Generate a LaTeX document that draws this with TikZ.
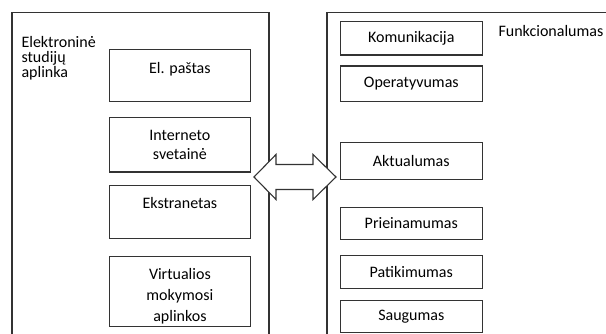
\documentclass[tikz,border=0pt]{standalone}
\usepackage{fontspec}
\setmainfont{Carlito}
\usepackage{tikz}
\usetikzlibrary{positioning}
\colorlet{linecol}{black!80}

\begin{document}
\begin{tikzpicture}[x=1pt, y=1pt, line width=1.1pt,
  box/.style={draw=linecol, fill=white, align=center, inner sep=1pt,
    font=\fontsize{16}{18.5}\selectfont},
  leftbox/.style={box, minimum width=141.7pt},
  rightbox/.style={box, minimum width=142pt},
  caption/.style={inner sep=0pt, align=left,
    font=\fontsize{16}{15}\selectfont}]

\useasboundingbox (0,0) rectangle (606,334);

% Outer frames (cut off at the bottom)
\draw[linecol] (12,-5) |- (269,321.3) -- (269,-5);
\draw[linecol] (327,-5) |- (612,321.3);

% Frame titles
\node[caption, anchor=north west] (esa) at (21,298) {Elektroninė\\studijų\\aplinka};
\node[caption, anchor=base west] (funk) at (498,297) {Funkcionalumas};

% Left column
\node[leftbox, minimum height=52.4pt, text depth=15pt] (posta) at (179.9,258.5) {El. paštas};
\node[leftbox, minimum height=54.7pt] (svetaine) at (179.9,189.3) {Interneto\\svetainė};
\node[leftbox, minimum height=53.4pt, text depth=18pt] (ekstranetas) at (179.9,122) {Ekstranetas};
\node[leftbox, minimum height=70pt, text height=62pt, font=\fontsize{16}{21}\selectfont]
  (vma) at (179.9,42.7) {Virtualios\\mokymosi\\aplinkos};

% Right column
\node[rightbox, minimum height=33.3pt] (komunikacija) at (411.3,295.6) {Komunikacija};
\node[rightbox, minimum height=35.7pt] (operatyvumas) at (411.3,250.1) {Operatyvumas};
\node[rightbox, minimum height=37pt] (aktualumas) at (411.3,172.8) {Aktualumas};
\node[rightbox, minimum height=31.6pt] (prieinamumas) at (411.3,110.5) {Prieinamumas};
\node[rightbox, minimum height=33pt] (patikimumas) at (411.3,61.8) {Patikimumas};
\node[rightbox, minimum height=32.4pt] (saugumas) at (411.3,17.5) {Saugumas};

% Double block arrow
\draw[linecol, fill=white] (254,157) -- (276,179.5) -- (276,169.5) -- (313,169.5)
  -- (313,179.5) -- (336,157) -- (313,134.5) -- (313,144.5) -- (276,144.5)
  -- (276,134.5) -- cycle;

\end{tikzpicture}
\end{document}
